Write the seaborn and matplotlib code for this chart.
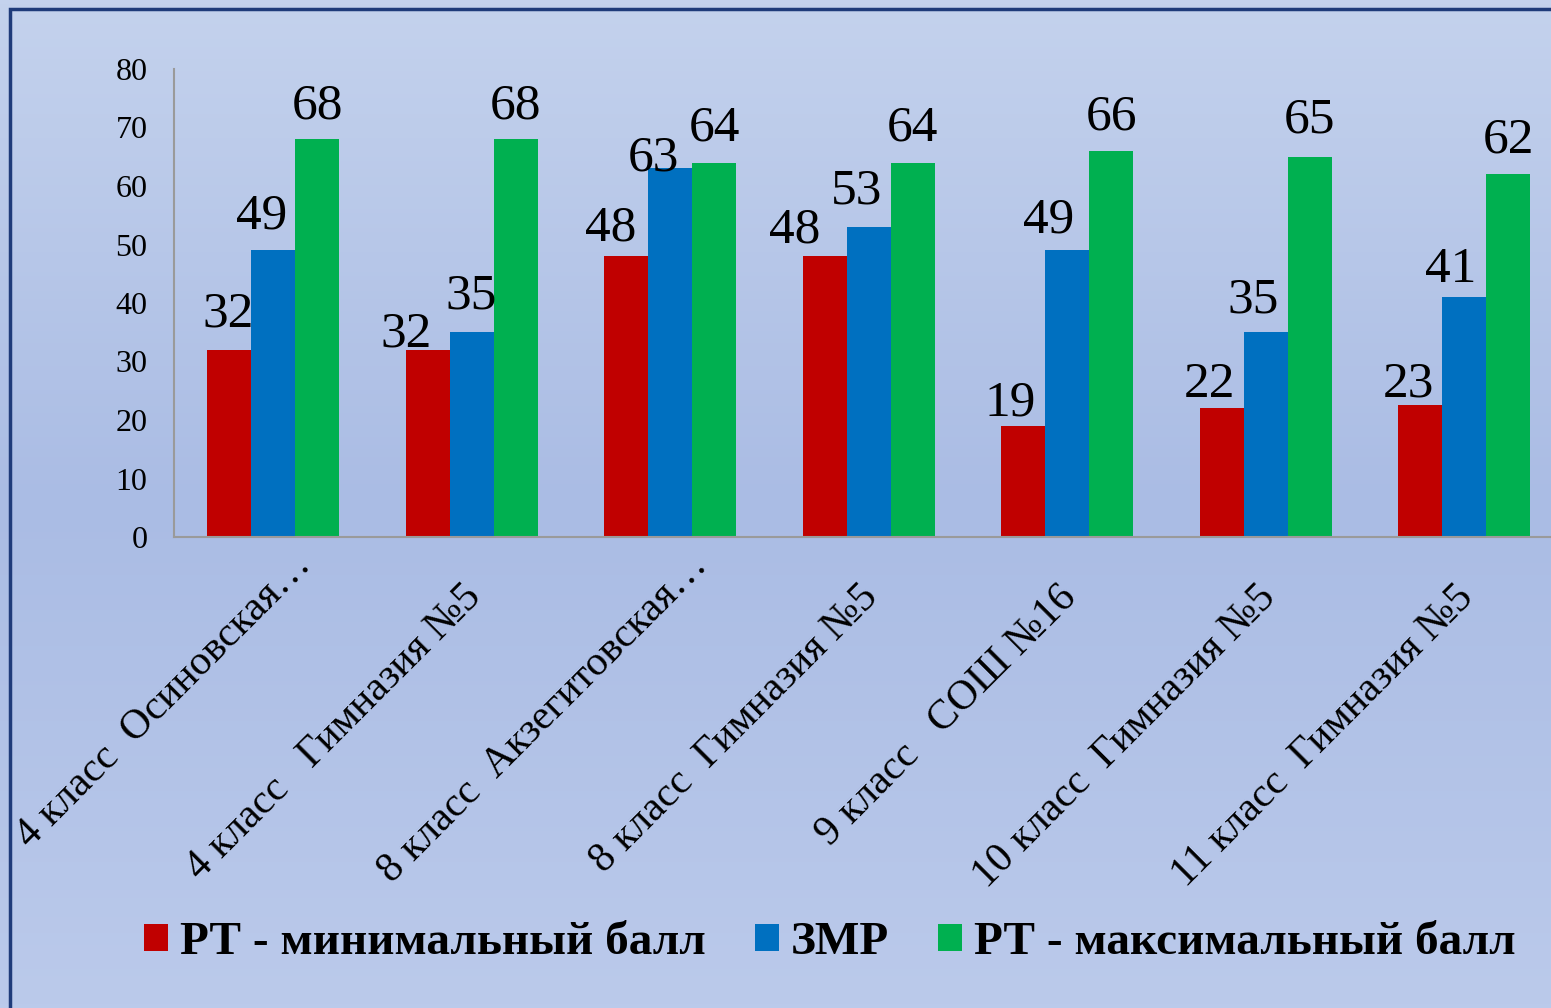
import numpy as np
import pandas as pd
import seaborn as sns
import matplotlib.pyplot as plt
import matplotlib.transforms as mtransforms
from matplotlib.patches import Rectangle

# chart data
categories = ['4 класс  Осиновская…', '4 класс   Гимназия №5', '8 класс  Акзегитовская…',
              '8 класс  Гимназия №5', '9 класс   СОШ №16', '10 класс  Гимназия №5',
              '11 класс  Гимназия №5']
series_names = ['РТ - минимальный балл', 'ЗМР', 'РТ - максимальный балл']
rt_min = [32, 32, 48, 48, 19, 22, 22.6]
zmr = [49, 35, 63, 53, 49, 35, 41]
rt_max = [68, 68, 64, 64, 66, 65, 62]
colors = ['#C00000', '#0070C0', '#00B050']

# hand-placed data labels in the original (pixel offsets: sideways, gap above bar)
label_dx = [[-1, -22, -16, -30, -13, -12, -12],
            [-12, -1, -17, -12, -19, -13, -14],
            [0, 0, 0, 0, 0, 0, 0]]
label_gap = [[23, 3, 16, 14, 10, 11, 8],
             [22, 24, -2, 23, 18, 20, 15],
             [21, 21, 22, 22, 21, 24, 22]]

df = pd.DataFrame({
    'cat': np.tile(categories, 3),
    'series': np.repeat(series_names, len(categories)),
    'value': rt_min + zmr + rt_max,
})

sns.set_theme(style='white', rc={'text.color': 'black', 'xtick.color': 'black', 'ytick.color': 'black'})
plt.rcParams['font.family'] = ['Liberation Serif', 'DejaVu Serif']

fig = plt.figure(figsize=(15.51, 10.08), dpi=100)
px = 72 / fig.dpi  # pixels -> points

# gradient background
bg = fig.add_axes([0, 0, 1, 1], zorder=-10)
top = np.array([196, 210, 237]) / 255
mid = np.array([170, 188, 228]) / 255
bot = np.array([187, 202, 235]) / 255
t = np.linspace(0, 1, 256)[:, None]
grad = np.where(t < 0.5, top + (mid - top) * (t / 0.5), mid + (bot - mid) * ((t - 0.5) / 0.5))
bg.imshow(grad[:, None, :].repeat(2, axis=1), aspect='auto', extent=[0, 1, 0, 1])
bg.set_axis_off()
# navy frame (only left and top edges are in view)
fig.patches.append(Rectangle((10 / 1551, -0.1), 1.2, 1.1 - 9 / 1008, transform=fig.transFigure,
                             fill=False, edgecolor='#1F3B7A', linewidth=2.5, zorder=-5))

ax = fig.add_axes([174 / 1551, (1008 - 537) / 1008, 1389.5 / 1551, 468 / 1008])
ax.set_facecolor('none')

sns.barplot(data=df, x='cat', y='value', hue='series', hue_order=series_names,
            palette=colors, width=0.665, gap=0, ax=ax, legend=True, saturation=1,
            edgecolor='none', linewidth=0)

for i, cont in enumerate(ax.containers):
    for j, bar in enumerate(cont):
        h = bar.get_height()
        ax.annotate(f'{h:.0f}', xy=(bar.get_x() + bar.get_width() / 2, h),
                    xytext=(label_dx[i][j] * px, label_gap[i][j] * px), textcoords='offset points',
                    ha='center', va='baseline', fontsize=37, color='black')

ax.set_ylim(0, 80)
ax.set_yticks(range(0, 81, 10))
ax.set_xlim(-0.5, len(categories) - 0.5)
ax.set_xlabel('')
ax.set_ylabel('')
ax.tick_params(axis='y', labelsize=23, length=0, pad=19)
ax.tick_params(axis='x', labelsize=30, length=0, pad=34 * px)
for lab in ax.get_xticklabels():
    lab.set_rotation(45)
    lab.set_ha('right')
    lab.set_va('top')
    lab.set_rotation_mode('anchor')
    if lab.get_text().endswith('…'):
        # truncated labels sit higher in the original
        dx, dy = 18, 25
    else:
        dx, dy = -10, -7
    off = mtransforms.ScaledTranslation(dx / fig.dpi, dy / fig.dpi, fig.dpi_scale_trans)
    lab.set_transform(lab.get_transform() + off)

for s in ['top', 'right']:
    ax.spines[s].set_visible(False)
for s in ['left', 'bottom']:
    ax.spines[s].set_color('#9A9A9A')
    ax.spines[s].set_linewidth(1.5)

handles, labels = ax.get_legend_handles_labels()
ax.legend_.remove()
fig.legend(handles, labels, loc='center', bbox_to_anchor=(830 / 1551, 1 - 943 / 1008), ncol=3,
           frameon=False, prop={'weight': 'bold', 'size': 34}, handlelength=0.5, handleheight=0.5,
           handletextpad=0.25, columnspacing=1.05)

plt.savefig('out.png', dpi=100)
